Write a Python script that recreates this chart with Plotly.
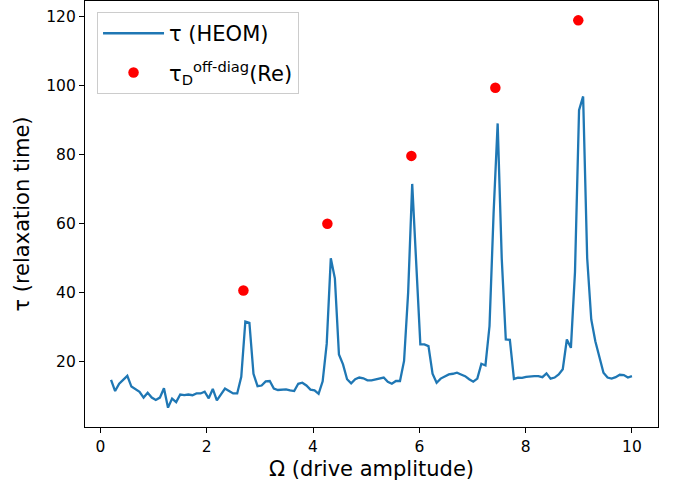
import numpy as np
import plotly.graph_objects as go

# Drive amplitude grid and HEOM relaxation times
omega = np.linspace(0.2, 10.0, 129)
tau_heom = [
    14.8, 11.6, 13.7, 15.0, 16.0, 12.9, 12.1, 11.4, 9.7, 11.1,
    9.7, 9.0, 9.7, 12.4, 6.8, 9.4, 8.4, 10.6, 10.4, 10.6,
    10.4, 10.9, 10.9, 11.4, 9.5, 12.2, 8.9, 10.6, 12.3, 11.6,
    10.9, 10.9, 15.7, 31.7, 31.3, 16.6, 13.0, 13.2, 14.4, 14.5,
    12.3, 11.9, 12.1, 12.1, 11.8, 11.6, 13.7, 14.0, 13.2, 12.0,
    11.8, 10.8, 14.4, 25.3, 50.0, 44.2, 22.2, 19.3, 15.0, 13.8,
    15.0, 15.5, 15.3, 14.7, 14.7, 15.0, 15.3, 15.5, 14.3, 13.7,
    14.5, 14.5, 20.3, 40.0, 71.5, 47.0, 25.1, 25.1, 24.6, 16.6,
    14.0, 15.2, 15.9, 16.4, 16.6, 16.9, 16.4, 15.9, 15.0, 14.3,
    15.2, 19.5, 19.0, 30.4, 63.0, 89.0, 50.0, 26.5, 26.4, 15.1,
    15.5, 15.4, 15.7, 15.9, 15.9, 15.9, 15.6, 16.7, 15.2, 15.5,
    16.4, 17.9, 26.5, 24.1, 46.0, 92.8, 96.8, 50.0, 32.3, 26.0,
    21.0, 16.9, 15.5, 15.2, 15.6, 16.3, 16.2, 15.5, 15.9,
]

# Off-diagonal dephasing-time estimates at the resonances
omega_res = [2.69, 4.27, 5.85, 7.43, 8.99]
tau_offdiag = [40.7, 60.0, 79.6, 99.3, 118.8]

x_ticks = [0, 2, 4, 6, 8, 10]
y_ticks = [20, 40, 60, 80, 100, 120]

FONT = "DejaVu Sans"

fig = go.Figure()
fig.add_trace(go.Scatter(
    x=omega, y=tau_heom, mode="lines",
    line=dict(color="#1f77b4", width=2.3),
    name="τ (HEOM)", legendgroup="a",
))
fig.add_trace(go.Scatter(
    x=omega_res, y=tau_offdiag, mode="markers",
    marker=dict(color="#ff0000", size=10.5),
    name="τ<sub>D</sub><sup>off-diag</sup>(Re)", legendgroup="b",
))

axis_common = dict(
    showgrid=False, zeroline=False,
    showline=True, mirror=True, linecolor="black", linewidth=1.1,
    ticks="outside", ticklen=5, tickwidth=1.1, tickcolor="black",
    tickfont=dict(family=FONT, size=15.5, color="black"),
)

fig.update_layout(
    width=674, height=487,
    margin=dict(l=85, r=16, t=1, b=60),
    paper_bgcolor="white", plot_bgcolor="white",
    font=dict(family=FONT, color="black"),
    xaxis=dict(
        range=[-0.29, 10.49], tickvals=x_ticks,
        title=dict(text="Ω (drive amplitude)", font=dict(family=FONT, size=21), standoff=6),
        **axis_common,
    ),
    yaxis=dict(
        range=[1.2, 124.4], tickvals=y_ticks,
        title=dict(text="τ (relaxation time)", font=dict(family=FONT, size=21), standoff=10),
        **axis_common,
    ),
    legend=dict(
        x=0.021, y=0.974, xanchor="left", yanchor="top",
        bgcolor="rgba(255,255,255,0.8)", bordercolor="#cccccc", borderwidth=1,
        font=dict(family=FONT, size=21, color="black"),
        traceorder="grouped", tracegroupgap=9, itemwidth=61,
    ),
    showlegend=True,
)

fig.write_html("out.html")
